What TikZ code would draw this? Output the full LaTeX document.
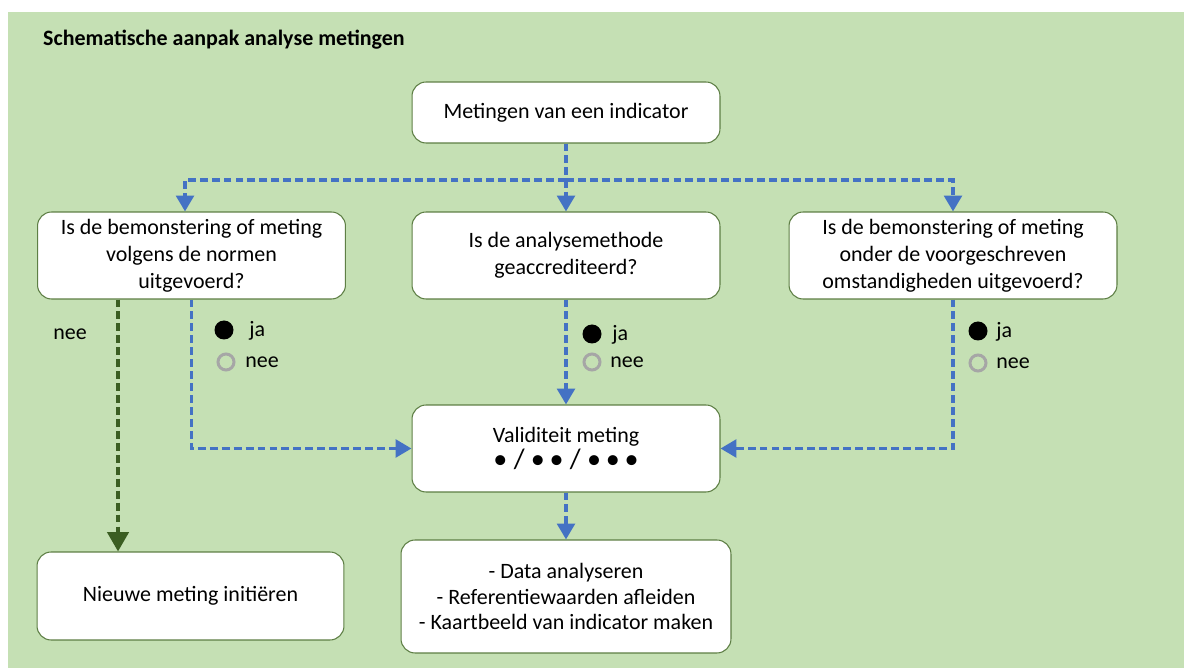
\documentclass[tikz,border=0pt]{standalone}
\usepackage{fontspec}
\setmainfont{Carlito}
\usetikzlibrary{arrows.meta,positioning}
\definecolor{achtergrond}{HTML}{C5E0B4}
\definecolor{kader}{HTML}{5E7F45}
\definecolor{pijlblauw}{HTML}{4472C4}
\definecolor{pijlgroen}{HTML}{3B5E22}
\definecolor{grijs}{HTML}{A6A6A6}
\newcommand\stipfont{\fontsize{16}{15.3}\selectfont}
\tikzset{
  blok/.style={draw=kader, line width=0.6pt, rounded corners=8pt, fill=white,
    align=center, minimum width=6.16cm, inner sep=2pt,
    font=\fontsize{12.5}{15.3}\selectfont},
  blauwpijl/.style={draw=pijlblauw, line width=2pt, dash pattern=on 4.5pt off 2.3pt},
  groenpijl/.style={draw=pijlgroen, line width=2.2pt, dash pattern=on 4.5pt off 2.3pt},
  vol/.style={circle, fill=black, inner sep=0pt, minimum size=0.38cm},
  leeg/.style={circle, draw=grijs, line width=1.7pt, inner sep=0pt, minimum size=0.32cm},
  label/.style={font=\fontsize{12.5}{15.3}\selectfont, inner sep=0pt},
}
\begin{document}
\begin{tikzpicture}[x=0.02cm, y=-0.02cm, >={Triangle[width=10pt,length=9pt]}]
    \useasboundingbox (0,0) rectangle (1184,668);
    \fill[achtergrond] (8,12) rectangle (1184,668);
    \node[anchor=west, font=\bfseries\fontsize{12.5}{15}\selectfont] (titel) at (37,40) {Schematische aanpak analyse metingen};

    % vragen
    \node[blok, minimum height=1.22cm] (meting) at (566,112.5) {Metingen van een indicator};
    \node[blok, minimum height=1.74cm] (vraag1) at (191.5,255.5) {Is de bemonstering of meting\\volgens de normen\\uitgevoerd?};
    \node[blok, minimum height=1.74cm] (vraag2) at (566,255.5) {Is de analysemethode\\geaccrediteerd?};
    \node[blok, minimum height=1.74cm, minimum width=6.56cm] (vraag3) at (953,255.5) {Is de bemonstering of meting\\onder de voorgeschreven\\omstandigheden uitgevoerd?};

    % uitkomsten
    \node[blok, minimum height=1.74cm] (valid) at (566,448.5) {Validiteit meting\\{\stipfont\textbullet\ /\ \textbullet\,\textbullet\ /\ \textbullet\,\textbullet\,\textbullet}};
    \node[blok, minimum height=2.26cm, minimum width=6.6cm, font=\fontsize{12.5}{14.6}\selectfont] (acties) at (566,596.5) {- Data analyseren\\- Referentiewaarden afleiden\\- Kaartbeeld van indicator maken};
    \node[blok, minimum height=1.76cm, minimum width=6.14cm] (nieuw) at (190.5,596) {Nieuwe meting initiëren};

    % legenda ja / nee
    \node[vol] (ja1) at (224,330) {};
    \node[leeg] (nee1) at (226,362) {};
    \node[label, anchor=west] at (249,331) {ja};
    \node[label, anchor=west] at (245,362) {nee};
    \node[vol] (ja2) at (592,334) {};
    \node[leeg] (nee2) at (592,362) {};
    \node[label, anchor=west] at (612,335) {ja};
    \node[label, anchor=west] at (610,362) {nee};
    \node[vol] (ja3) at (978,331) {};
    \node[leeg] (nee3) at (978,363) {};
    \node[label, anchor=west] at (996,332) {ja};
    \node[label, anchor=west] at (996,363) {nee};
    \node[label] (neetekst) at (70,334) {nee};

    % verbindingen
    \coordinate (splitsing) at (566,180);
    \draw[blauwpijl] (meting.south) -- (splitsing);
    \draw[blauwpijl,->] (splitsing) -| ([xshift=-0.13cm]vraag1.north);
    \draw[blauwpijl,->] (splitsing) -- (vraag2.north);
    \draw[blauwpijl,->] (splitsing) -| (vraag3.north);
    \draw[blauwpijl,->] (vraag1.south) |- (valid.west);
    \draw[blauwpijl,->] (vraag2.south) -- (valid.north);
    \draw[blauwpijl,->] (vraag3.south) |- (valid.east);
    \draw[blauwpijl,->] (valid.south) -- (acties.north);
    \draw[groenpijl,-{Triangle[width=12pt,length=11pt]}] ([xshift=-1.47cm]vraag1.south) -- ([xshift=-1.45cm]nieuw.north);
\end{tikzpicture}
\end{document}
